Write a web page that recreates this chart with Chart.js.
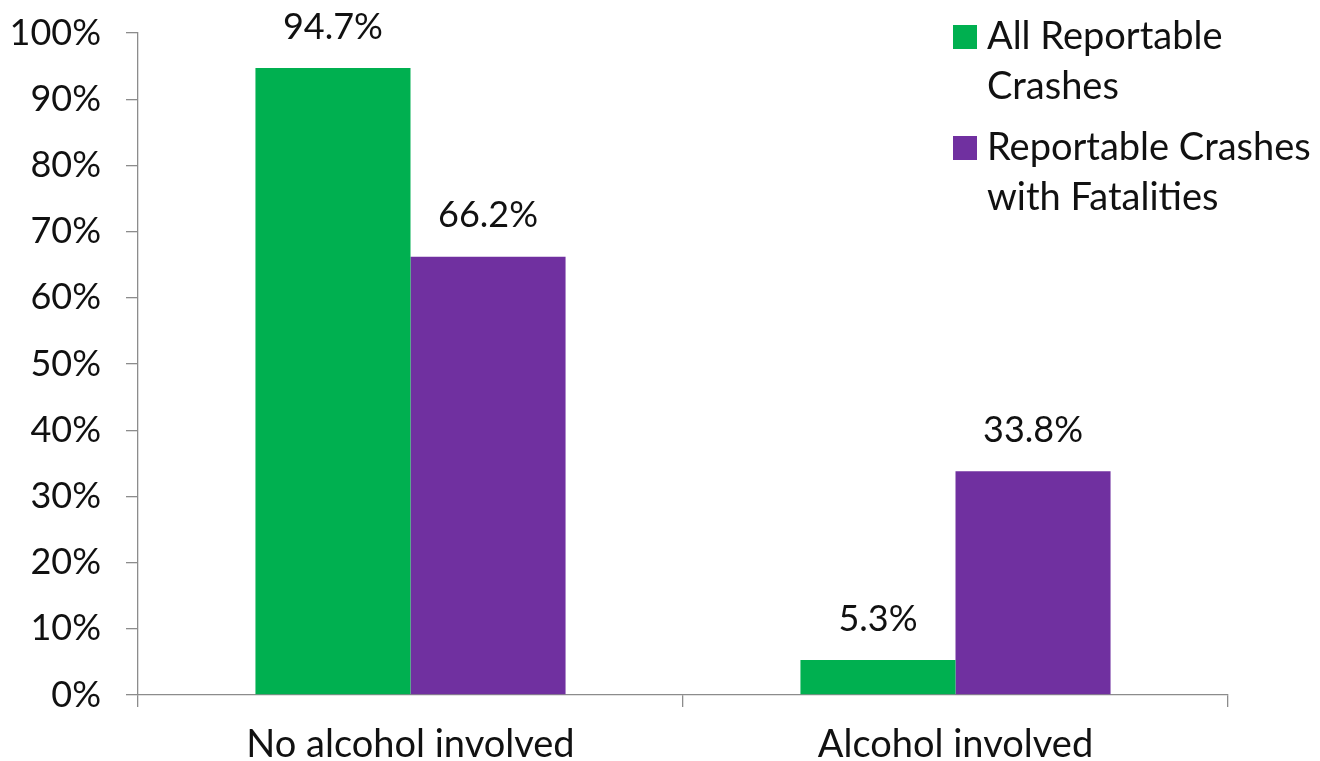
<!DOCTYPE html>
<html>
<head>
<meta charset="utf-8">
<title>Crashes by alcohol involvement</title>
<script src="https://cdn.jsdelivr.net/npm/chart.js@4.4.1/dist/chart.umd.min.js"></script>
<style>
  html, body { margin: 0; padding: 0; background: #fff; }
  #wrap { width: 1320px; height: 761px; }
</style>
</head>
<body>
<div id="wrap"><canvas id="crashChart" width="1320" height="761"></canvas></div>
<script>
// Share of crashes, percent
var categories = ['No alcohol involved', 'Alcohol involved'];
var allCrashes = [94.7, 5.3];
var fatalCrashes = [66.2, 33.8];
var seriesNames = ['All Reportable Crashes', 'Reportable Crashes with Fatalities'];
var yTicks = [0, 10, 20, 30, 40, 50, 60, 70, 80, 90, 100];

var FONT = 'Lato, "Open Sans", sans-serif';
var NUM_SIZE = 36;   // numbers: ticks and value labels
var TEXT_SIZE = 38;  // words: categories and legend
var axisColor = '#8c8c8c';

// value labels above each bar
var barLabels = {
    id: 'barLabels',
    afterDatasetsDraw: function(chart) {
        var ctx = chart.ctx;
        ctx.save();
        ctx.font = NUM_SIZE + 'px ' + FONT;
        ctx.fillStyle = '#111';
        ctx.textAlign = 'center';
        ctx.textBaseline = 'middle';
        chart.data.datasets.forEach(function(ds, i) {
            chart.getDatasetMeta(i).data.forEach(function(bar, j) {
                ctx.fillText(ds.data[j].toFixed(1) + '%', bar.x, bar.y - 41);
            });
        });
        ctx.restore();
    }
};

// legend box in the upper right, labels wrapped onto two lines
var sideLegend = {
    id: 'sideLegend',
    afterDraw: function(chart) {
        var ctx = chart.ctx;
        var x = 953, y = 37, box = 24, lineH = 50, gap = 11;
        var maxW = chart.width - x - box - 10 - 4;
        ctx.save();
        ctx.font = TEXT_SIZE + 'px ' + FONT;
        ctx.textBaseline = 'middle';
        ctx.textAlign = 'left';
        chart.data.datasets.forEach(function(ds) {
            var words = ds.label.split(' ');
            var lines = [], cur = '';
            words.forEach(function(w) {
                var test = cur ? cur + ' ' + w : w;
                if (cur && ctx.measureText(test).width > maxW) {
                    lines.push(cur);
                    cur = w;
                } else {
                    cur = test;
                }
            });
            lines.push(cur);
            ctx.fillStyle = ds.backgroundColor;
            ctx.fillRect(x, y - box / 2, box, box);
            ctx.fillStyle = '#111';
            lines.forEach(function(line, k) {
                ctx.fillText(line, x + box + 10, y + k * lineH);
            });
            y += lines.length * lineH + gap;
        });
        ctx.restore();
    }
};

var ctx = document.getElementById('crashChart').getContext('2d');
var crashChart = new Chart(ctx, {
    type: 'bar',
    data: {
        labels: categories,
        datasets: [{
            label: seriesNames[0],
            data: allCrashes,
            backgroundColor: '#00b050'
        }, {
            label: seriesNames[1],
            data: fatalCrashes,
            backgroundColor: '#7030a0'
        }]
    },
    options: {
        responsive: false,
        animation: false,
        events: [],
        layout: {
            padding: { top: 33, right: 92, left: 0, bottom: 0 }
        },
        datasets: {
            bar: {
                categoryPercentage: 0.569,
                barPercentage: 1.0
            }
        },
        plugins: {
            legend: { display: false },
            tooltip: { enabled: false }
        },
        scales: {
            x: {
                grid: {
                    offset: true,
                    drawOnChartArea: false,
                    drawTicks: true,
                    tickLength: 12,
                    color: axisColor,
                    lineWidth: 1.3
                },
                border: { color: axisColor, width: 1.3 },
                ticks: {
                    color: '#111',
                    padding: 15,
                    font: { family: FONT, size: TEXT_SIZE }
                },
                afterFit: function(scale) {
                    scale.height = 66;
                    scale.paddingLeft = 0;
                    scale.paddingRight = 0;
                }
            },
            y: {
                min: 0,
                max: 100,
                afterBuildTicks: function(scale) {
                    scale.ticks = yTicks.map(function(v) { return { value: v }; });
                },
                grid: {
                    drawOnChartArea: false,
                    drawTicks: true,
                    tickLength: 12,
                    color: axisColor,
                    lineWidth: 1.3
                },
                border: { color: axisColor, width: 1.3 },
                ticks: {
                    color: '#111',
                    padding: 25,
                    font: { family: FONT, size: NUM_SIZE },
                    callback: function(v) { return v + '%'; }
                },
                afterFit: function(scale) {
                    scale.width = 138;
                    scale.paddingTop = 0;
                    scale.paddingBottom = 0;
                }
            }
        }
    },
    plugins: [barLabels, sideLegend]
});
</script>
</body>
</html>
